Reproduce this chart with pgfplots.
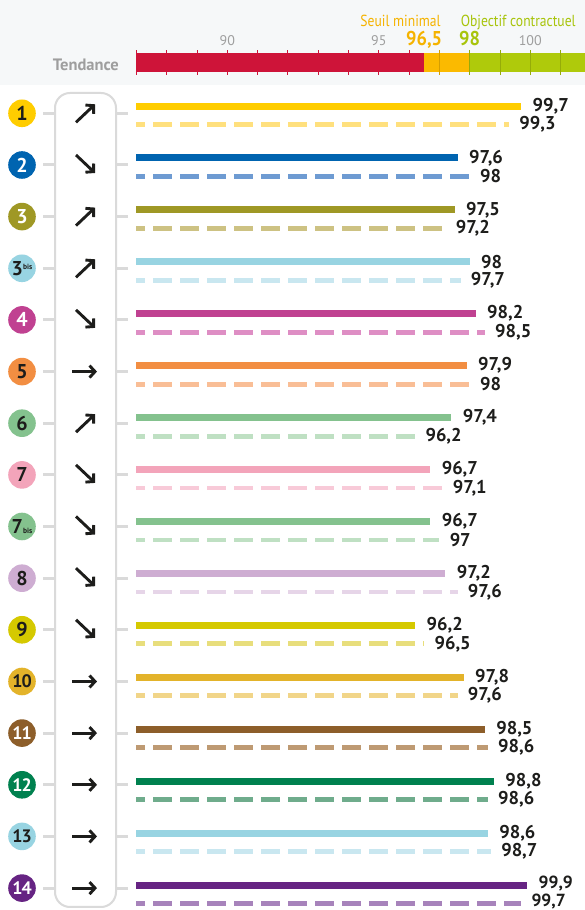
\documentclass[border=0pt]{standalone}
\usepackage{pgfplots}
\pgfplotsset{compat=1.18}
\usepackage{fontspec}
\setmainfont{PT Sans}
\usetikzlibrary{arrows.meta}
\definecolor{ink}{HTML}{1D1D1B}
\definecolor{bgc}{HTML}{F6F8F9}
\definecolor{boxc}{HTML}{DADADA}
\definecolor{tgray}{HTML}{9E9E9E}
\definecolor{bred}{HTML}{CE1439}
\definecolor{bora}{HTML}{FBBA00}
\definecolor{bgre}{HTML}{AFCA0B}
\definecolor{tora}{HTML}{F5B300}
\definecolor{tgre}{HTML}{A8C40B}
\definecolor{c1}{HTML}{FFCD00}\definecolor{c1d}{HTML}{FFE07E}
\definecolor{c2}{HTML}{0064B0}\definecolor{c2d}{HTML}{6E9BD2}
\definecolor{c3}{HTML}{9F9825}\definecolor{c3d}{HTML}{CDC283}
\definecolor{c3b}{HTML}{98D4E2}\definecolor{c3bd}{HTML}{C9E7F0}
\definecolor{c4}{HTML}{C04191}\definecolor{c4d}{HTML}{DE8EC4}
\definecolor{c5}{HTML}{F28E42}\definecolor{c5d}{HTML}{F9BE96}
\definecolor{c6}{HTML}{84C28E}\definecolor{c6d}{HTML}{BFE0C3}
\definecolor{c7}{HTML}{F3A4BA}\definecolor{c7d}{HTML}{F8CAD8}
\definecolor{c8}{HTML}{CEADD2}\definecolor{c8d}{HTML}{E6D5E8}
\definecolor{c9}{HTML}{D5C900}\definecolor{c9d}{HTML}{E8DE7C}
\definecolor{c10}{HTML}{E3B32A}\definecolor{c10d}{HTML}{F1D589}
\definecolor{c11}{HTML}{8D5E2A}\definecolor{c11d}{HTML}{BE9A73}
\definecolor{c12}{HTML}{00814F}\definecolor{c12d}{HTML}{6FAC8C}
\definecolor{c14}{HTML}{662483}\definecolor{c14d}{HTML}{A783BB}
\tikzset{
  arr/.style={line width=2.9pt, draw=ink, -{Straight Barb[length=5.5pt,width=12pt]}},
  lab/.style={pos=1, anchor=west, inner sep=0pt, xshift=8pt, text=ink, font=\fontsize{18.5}{19}\selectfont\bfseries},
  labs/.style={lab, font=\fontsize{17.5}{18}\selectfont\bfseries},
}
\newcommand\rowc[4]{% y, fill, textcolor, label
  \draw[boxc, line width=3pt] (43,#1) -- (55,#1) (116,#1) -- (128,#1);
  \fill[#2] (22,#1) circle (13.8);
  \node[text=#3, font=\fontsize{20}{20}\selectfont\bfseries, inner sep=0pt] at (22,#1) {#4};
}
\newcommand\aup[1]{\draw[arr] (76,#1+9) -- (95,#1-9);}
\newcommand\adown[1]{\draw[arr] (76,#1-10) -- (95,#1+8);}
\newcommand\aright[1]{\draw[arr] (72,#1) -- (97,#1);}
\newcommand\bis{\fontsize{7.5}{7}\selectfont\bfseries bis}
\begin{document}
\begin{tikzpicture}
\path[use as bounding box] (0,0) rectangle (585pt,910pt);
\begin{scope}[x=1pt,y=-1pt,yshift=910pt]
  \fill[white] (0,0) rectangle (585,910);
  \fill[bgc] (0,0) rectangle (585,85);
  \draw[boxc, line width=2pt, rounded corners=15pt] (55,93) rectangle (116,907);
  \rowc{113.3}{c1}{ink}{1}\aup{113.3}
  \rowc{165.0}{c2}{white}{2}\adown{165.0}
  \rowc{216.6}{c3}{white}{3}\aup{216.6}
  \rowc{268.3}{c3b}{ink}{3\raisebox{6pt}{\bis}}\aup{268.3}
  \rowc{319.9}{c4}{white}{4}\adown{319.9}
  \rowc{371.6}{c5}{ink}{5}\aright{371.6}
  \rowc{423.2}{c6}{ink}{6}\aup{423.2}
  \rowc{474.9}{c7}{ink}{7}\adown{474.9}
  \rowc{526.5}{c6}{ink}{7\raisebox{0pt}{\bis}}\adown{526.5}
  \rowc{578.2}{c8}{ink}{8}\adown{578.2}
  \rowc{629.8}{c9}{ink}{9}\adown{629.8}
  \rowc{681.5}{c10}{ink}{\fontsize{18}{18}\selectfont 1\kern-1pt0}\aright{681.5}
  \rowc{733.1}{c11}{white}{\fontsize{18}{18}\selectfont 1\kern-1pt1}\aright{733.1}
  \rowc{784.8}{c12}{white}{\fontsize{18}{18}\selectfont 1\kern-1pt2}\aright{784.8}
  \rowc{836.4}{c3b}{ink}{\fontsize{18}{18}\selectfont 1\kern-1pt3}\aright{836.4}
  \rowc{888.1}{c14}{white}{\fontsize{18}{18}\selectfont 1\kern-1pt4}\aright{888.1}
  \node[anchor=base east, inner sep=0pt, text=tgray, font=\fontsize{16.5}{16}\selectfont\bfseries] at (119,71) {Tendance};
\end{scope}
\begin{axis}[at={(0,0)}, anchor=south west, width=585pt, height=910pt, scale only axis,
  xmin=82.5, xmax=101.807, ymin=0, ymax=910, y dir=reverse,
  axis lines=none, clip=false, no markers]
  % header scale band
  \fill[bred] (axis cs:87,53.3) rectangle (axis cs:96.5,71.7);
  \fill[bora] (axis cs:96.5,53.3) rectangle (axis cs:98,71.7);
  \fill[bgre] (axis cs:98,53.3) rectangle (axis cs:101.807,71.7);
  \pgfplotsinvokeforeach{87,88,...,96}{\draw[bred, line width=0.9pt] (axis cs:#1,50) -- (axis cs:#1,75);}
  \draw[bora!85!black, line width=0.9pt] (axis cs:97,50) -- (axis cs:97,75);
  \pgfplotsinvokeforeach{98,99,100,101}{\draw[bgre!85!black, line width=0.9pt] (axis cs:#1,50) -- (axis cs:#1,75);}
  \node[anchor=base, text=tgray, font=\fontsize{14}{14}\selectfont] at (axis cs:90,45) {90};
  \node[anchor=base, text=tgray, font=\fontsize{14}{14}\selectfont] at (axis cs:95,45) {95};
  \node[anchor=base, text=tgray, font=\fontsize{14}{14}\selectfont] at (axis cs:100,45) {100};
  \node[anchor=base, text=tora, font=\fontsize{20}{20}\selectfont\bfseries] at (axis cs:96.5,45) {\scalebox{0.92}[1]{96,5}};
  \node[anchor=base, text=tgre, font=\fontsize{20}{20}\selectfont\bfseries] at (axis cs:98,45) {\scalebox{0.92}[1]{98}};
  \node[anchor=base east, inner sep=0pt, text=tora, font=\fontsize{16}{16}\selectfont] at (axis cs:97.05,26) {\scalebox{0.85}[1]{Seuil minimal}};
  \node[anchor=base west, inner sep=0pt, text=tgre, font=\fontsize{16}{16}\selectfont] at (axis cs:97.7,26) {\scalebox{0.85}[1]{Objectif contractuel}};
  % data
  \pgfplotsset{sol/.style={line width=7pt}, das/.style={line width=4.8pt, dash pattern=on 19pt off 8pt, dash phase=10pt}}
  \addplot[c1, sol] coordinates {(87,106.0) (99.7,106.0)} node[lab] {99,7};
  \addplot[c1d, das] coordinates {(87,124.5) (99.3,124.5)} node[lab] {99,3};
  \addplot[c2, sol] coordinates {(87,157.9) (97.6,157.9)} node[lab] {97,6};
  \addplot[c2d, das] coordinates {(87,176.4) (98,176.4)} node[lab] {98};
  \addplot[c3, sol] coordinates {(87,209.9) (97.5,209.9)} node[lab] {97,5};
  \addplot[c3d, das] coordinates {(87,228.4) (97.2,228.4)} node[lab] {97,2};
  \addplot[c3b, sol] coordinates {(87,261.8) (98,261.8)} node[lab] {98};
  \addplot[c3bd, das] coordinates {(87,280.3) (97.7,280.3)} node[lab] {97,7};
  \addplot[c4, sol] coordinates {(87,313.7) (98.2,313.7)} node[lab] {98,2};
  \addplot[c4d, das] coordinates {(87,332.2) (98.5,332.2)} node[lab] {98,5};
  \addplot[c5, sol] coordinates {(87,365.7) (97.9,365.7)} node[lab] {97,9};
  \addplot[c5d, das] coordinates {(87,384.2) (98,384.2)} node[lab] {98};
  \addplot[c6, sol] coordinates {(87,417.6) (97.4,417.6)} node[lab] {97,4};
  \addplot[c6d, das] coordinates {(87,436.1) (96.2,436.1)} node[lab] {96,2};
  \addplot[c7, sol] coordinates {(87,469.5) (96.7,469.5)} node[lab] {96,7};
  \addplot[c7d, das] coordinates {(87,488.0) (97.1,488.0)} node[lab] {97,1};
  \addplot[c6, sol] coordinates {(87,521.4) (96.7,521.4)} node[lab] {96,7};
  \addplot[c6d, das] coordinates {(87,539.9) (97,539.9)} node[lab] {97};
  \addplot[c8, sol] coordinates {(87,573.4) (97.2,573.4)} node[lab] {97,2};
  \addplot[c8d, das] coordinates {(87,591.9) (97.6,591.9)} node[lab] {97,6};
  \addplot[c9, sol] coordinates {(87,625.3) (96.2,625.3)} node[lab] {96,2};
  \addplot[c9d, das] coordinates {(87,643.8) (96.5,643.8)} node[lab] {96,5};
  \addplot[c10, sol] coordinates {(87,677.2) (97.8,677.2)} node[lab] {97,8};
  \addplot[c10d, das] coordinates {(87,695.7) (97.6,695.7)} node[lab] {97,6};
  \addplot[c11, sol] coordinates {(87,729.2) (98.5,729.2)} node[lab] {98,5};
  \addplot[c11d, das] coordinates {(87,747.7) (98.6,747.7)} node[lab] {98,6};
  \addplot[c12, sol] coordinates {(87,781.1) (98.8,781.1)} node[lab] {98,8};
  \addplot[c12d, das] coordinates {(87,799.6) (98.6,799.6)} node[lab] {98,6};
  \addplot[c3b, sol] coordinates {(87,833.0) (98.6,833.0)} node[lab] {98,6};
  \addplot[c3bd, das] coordinates {(87,851.5) (98.7,851.5)} node[lab] {98,7};
  \addplot[c14, sol] coordinates {(87,885.0) (99.9,885.0)} node[labs, yshift=1.5pt] {99,9};
  \addplot[c14d, das] coordinates {(87,903.5) (99.7,903.5)} node[labs, yshift=2pt] {99,7};
\end{axis}
\end{tikzpicture}
\end{document}
